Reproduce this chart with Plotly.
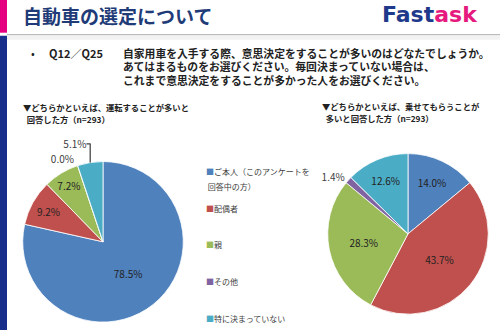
import plotly.graph_objects as go

# ---- data ----
categories = ["ご本人（このアンケートを", "配偶者", "親", "その他", "特に決まっていない"]
category_line2 = ["回答中の方）", "", "", "", ""]
colors = ["#4F81BD", "#C0504D", "#9BBB59", "#8064A2", "#4BACC6"]
driver_pct = [78.5, 9.2, 7.2, 0.0, 5.1]
passenger_pct = [14.0, 43.7, 28.3, 1.4, 12.6]
driver_textpos = ["inside", "inside", "inside", "outside", "outside"]
passenger_textpos = ["inside", "inside", "inside", "outside", "inside"]

title = "自動車の選定について"
question_no = "Q12／Q25"
question_lines = [
    "自家用車を入手する際、意思決定をすることが多いのはどなたでしょうか。",
    "あてはまるものをお選びください。毎回決まっていない場合は、",
    "これまで意思決定をすることが多かった人をお選びください。",
]
left_sub = ["▼どちらかといえば、運転することが多いと", "\u00a0\u00a0回答した方（n=293）"]
right_sub = ["▼どちらかといえば、乗せてもらうことが", "\u00a0\u00a0多いと回答した方（n=293）"]

W, H = 500, 333
JP = "Noto Sans CJK JP"

def px(x):
    return x / W

def py(y):
    return 1 - y / H

fig = go.Figure()

def add_pie(vals, tpos, cx, cy, r):
    fig.add_trace(go.Pie(
        labels=categories, values=vals, sort=False, direction="clockwise", rotation=0,
        marker=dict(colors=colors, line=dict(color="white", width=0.8)),
        texttemplate="%{value:.1f}%", textposition=tpos,
        insidetextorientation="horizontal",
        insidetextfont=dict(family=JP, size=10, color="#222222"),
        outsidetextfont=dict(family=JP, size=10, color="#404040"),
        showlegend=False, hoverinfo="skip",
        domain=dict(x=[px(cx - r), px(cx + r)], y=[py(cy + r), py(cy - r)]),
    ))

add_pie(driver_pct, driver_textpos, 103, 244, 81)
add_pie(passenger_pct, passenger_textpos, 408, 236, 81)

# legend entries (colored square in text); entries two lines tall except the last
n = len(categories)
for i, (lab, lab2, col) in enumerate(zip(categories, category_line2, colors)):
    line1 = f"<span style='font-size:8px'><span style='color:{col}'>■</span>{lab}</span>"
    if lab2:
        name = line1 + f"<br><span style='font-size:8px'>\u00a0{lab2}</span>"
    elif i < n - 1:
        name = line1 + "<br>\u00a0"
    else:
        name = line1
    fig.add_trace(go.Scatter(
        x=[None], y=[None], mode="markers",
        marker=dict(color="rgba(0,0,0,0)", size=1),
        name=name, legendgroup=f"g{i}", showlegend=True,
    ))

fig.update_layout(
    width=W, height=H, margin=dict(l=0, r=0, t=0, b=0),
    paper_bgcolor="white", plot_bgcolor="white",
    xaxis=dict(visible=False), yaxis=dict(visible=False),
    legend=dict(x=px(166), y=py(158.5), xanchor="left", yanchor="top",
                font=dict(family=JP, size=11.5, color="#404040"),
                tracegroupgap=3.6, bgcolor="rgba(0,0,0,0)", itemwidth=30),
    font=dict(family=JP),
)

shapes = [
    dict(type="rect", xref="paper", yref="paper", x0=0, x1=px(7), y0=py(33), y1=1,
         fillcolor="#E4007F", line=dict(width=0)),
    dict(type="rect", xref="paper", yref="paper", x0=0, x1=px(7), y0=0, y1=py(36),
         fillcolor="#172F8A", line=dict(width=0)),
    dict(type="rect", xref="paper", yref="paper", x0=px(7), x1=1, y0=py(40), y1=py(36),
         fillcolor="#F2F2F2", line=dict(width=0)),
    dict(type="line", xref="paper", yref="paper", x0=px(7), x1=1, y0=py(35), y1=py(35),
         line=dict(color="#BBBBBB", width=1.2)),
]
fig.update_layout(shapes=shapes)

ann = []
ann.append(dict(text=f"<b>{title}</b>", x=px(21), y=py(16), xanchor="left", yanchor="middle",
                font=dict(family=JP, size=19, color="#1F3C78")))
ann.append(dict(text="<b><span style='color:#1F3A8A'>Fast</span><span style='color:#E5197E'>ask</span></b>",
                x=px(480), y=py(15), xanchor="right", yanchor="middle",
                font=dict(family="DejaVu Sans", size=22)))
ann.append(dict(text="•", x=px(29), y=py(53), xanchor="left", yanchor="middle",
                font=dict(family=JP, size=11, color="#222222")))
ann.append(dict(text=f"<b>{question_no}</b>", x=px(47), y=py(53), xanchor="left", yanchor="middle",
                font=dict(family=JP, size=11, color="#222222")))
for k, line in enumerate(question_lines):
    ann.append(dict(text=f"<b>{line}</b>", x=px(121), y=py(53 + 13.7 * k),
                    xanchor="left", yanchor="middle", align="left",
                    font=dict(family=JP, size=10.8, color="#222222")))
for k, line in enumerate(left_sub):
    ann.append(dict(text=f"<b>{line}</b>", x=px(21), y=py(108 + 12 * k),
                    xanchor="left", yanchor="middle", align="left",
                    font=dict(family=JP, size=8.3, color="#222222")))
for k, line in enumerate(right_sub):
    ann.append(dict(text=f"<b>{line}</b>", x=px(320), y=py(107 + 12 * k),
                    xanchor="left", yanchor="middle", align="left",
                    font=dict(family=JP, size=8.3, color="#222222")))
for a in ann:
    a.update(xref="paper", yref="paper", showarrow=False)
fig.update_layout(annotations=ann)

fig.write_html("out.html")
